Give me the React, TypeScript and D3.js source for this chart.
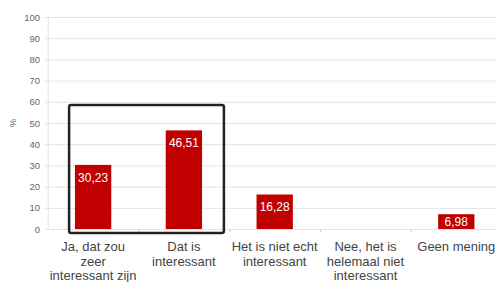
import React, { useRef, useEffect } from 'react';
import * as d3 from 'd3';

const categories: string[][] = [
  ['Ja, dat zou', 'zeer', 'interessant zijn'],
  ['Dat is', 'interessant'],
  ['Het is niet echt', 'interessant'],
  ['Nee, het is', 'helemaal niet', 'interessant'],
  ['Geen mening'],
];
const values: number[] = [30.23, 46.51, 16.28, 0, 6.98];
const yTicks: number[] = [0, 10, 20, 30, 40, 50, 60, 70, 80, 90, 100];

export default function App() {
  const svgRef = useRef<SVGSVGElement>(null);

  useEffect(() => {
    const svg = d3.select(svgRef.current);
    const width = 496;
    const height = 282;
    const margin = { top: 17, left: 47.7, bottom: 53 };

    svg.selectAll('*').remove();

    const x = d3.scaleBand<number>()
      .domain(values.map((_, i) => i))
      .range([margin.left, margin.left + 5 * 90.8])
      .padding(0);

    const y = d3.scaleLinear()
      .domain([0, 100])
      .range([height - margin.bottom, margin.top]);

    const font = 'Liberation Sans, Arial, sans-serif';

    // gridlines
    svg.append('g')
      .selectAll('line')
      .data(yTicks)
      .enter()
      .append('line')
      .attr('x1', margin.left - 3)
      .attr('x2', width)
      .attr('y1', d => y(d) + 0.5)
      .attr('y2', d => y(d) + 0.5)
      .attr('stroke', '#e3e3e3');

    // y axis line
    svg.append('line')
      .attr('x1', margin.left + 0.5)
      .attr('x2', margin.left + 0.5)
      .attr('y1', y(100))
      .attr('y2', y(0))
      .attr('stroke', '#e3e3e3');

    // x ticks between bands
    svg.append('g')
      .selectAll('line')
      .data(values.slice(1).map((_, i) => i + 1))
      .enter()
      .append('line')
      .attr('x1', d => x(d)! + 0.5)
      .attr('x2', d => x(d)! + 0.5)
      .attr('y1', y(0))
      .attr('y2', y(0) + 3)
      .attr('stroke', '#d0d0d0');

    // y tick labels
    svg.append('g')
      .selectAll('text')
      .data(yTicks)
      .enter()
      .append('text')
      .attr('x', 40)
      .attr('y', d => y(d) + 3.5)
      .attr('text-anchor', 'end')
      .attr('font-family', font)
      .attr('font-size', 9.5)
      .attr('fill', '#666')
      .text(d => d);

    svg.append('text')
      .attr('transform', `translate(16,${y(50)}) rotate(-90)`)
      .attr('text-anchor', 'middle')
      .attr('font-family', font)
      .attr('font-size', 9.5)
      .attr('fill', '#666')
      .text('%');

    // bars + value labels
    const barW = x.bandwidth() * 0.4;
    const bars = svg.append('g');
    values.forEach((v, i) => {
      if (v <= 0) return;
      const cx = x(i)! + x.bandwidth() / 2;
      const top = y(v);
      const h = y(0) - top;
      bars.append('rect')
        .attr('x', cx - barW / 2)
        .attr('y', top)
        .attr('width', barW)
        .attr('height', h)
        .attr('fill', '#c00000');
      bars.append('text')
        .attr('x', cx)
        .attr('y', top + Math.min(17, h / 2 + 4.5))
        .attr('text-anchor', 'middle')
        .attr('font-family', font)
        .attr('font-size', 12)
        .attr('fill', '#fff')
        .text(d3.format('.2f')(v).replace('.', ','));
    });

    // x labels
    const labels = svg.append('g');
    categories.forEach((lines, i) => {
      const cx = x(i)! + x.bandwidth() / 2;
      lines.forEach((line, j) => {
        labels.append('text')
          .attr('x', cx)
          .attr('y', 251 + j * 14.5)
          .attr('text-anchor', 'middle')
          .attr('font-family', font)
          .attr('font-size', 13)
          .attr('fill', '#444')
          .text(line);
      });
    });

    // highlight box
    const c0 = x(0)! + x.bandwidth() / 2;
    const c1 = x(1)! + x.bandwidth() / 2;
    svg.append('rect')
      .attr('x', c0 - 24)
      .attr('y', y(58.5))
      .attr('width', c1 + 40 - (c0 - 24))
      .attr('height', y(0) + 4 - y(58.5))
      .attr('rx', 2)
      .attr('fill', 'none')
      .attr('stroke', '#222')
      .attr('stroke-width', 2.5);
  }, []);

  return (
    <svg
      ref={svgRef}
      width={496}
      height={282}
      style={{ position: 'absolute', left: 0, top: 0, background: '#fff' }}
    />
  );
}
